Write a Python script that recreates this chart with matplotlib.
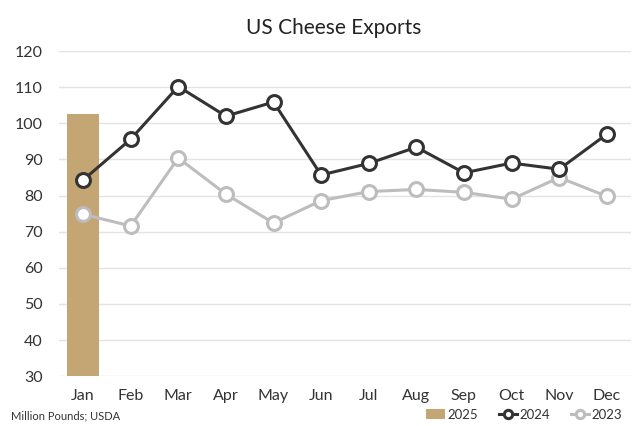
import numpy as np
import matplotlib.pyplot as plt

months = ['Jan', 'Feb', 'Mar', 'Apr', 'May', 'Jun', 'Jul', 'Aug', 'Sep', 'Oct', 'Nov', 'Dec']
exports_2025 = [102.5]
exports_2024 = [84.3, 95.6, 110.2, 102.0, 105.9, 85.7, 88.9, 93.4, 86.3, 89.0, 87.3, 97.0]
exports_2023 = [74.8, 71.6, 90.4, 80.4, 72.4, 78.6, 81.1, 81.7, 80.9, 79.0, 85.0, 79.8]

plt.rcParams['font.family'] = ['Lato', 'DejaVu Sans']

fig = plt.figure(figsize=(6.37, 4.26), dpi=100)
ax = fig.add_axes([0.093, 0.117, 0.897, 0.763])

x = np.arange(len(months))
ax.bar(x[:len(exports_2025)], np.array(exports_2025) - 30, bottom=30, width=0.67,
       color='#C4A574', label='2025', zorder=2)
ax.plot(x, exports_2023, color='#BDBDBD', lw=2.2, marker='o', ms=10,
        mfc='white', mec='#BDBDBD', mew=2.2, label='2023', zorder=3)
ax.plot(x, exports_2024, color='#333333', lw=2.2, marker='o', ms=10,
        mfc='white', mec='#333333', mew=2.2, label='2024', zorder=4)

ax.set_ylim(30, 120)
ax.set_xlim(-0.5, 11.5)
ax.set_yticks(range(30, 121, 10))
ax.set_xticks(x)
ax.set_xticklabels(months)
ax.tick_params(length=0, labelsize=11.5, colors='#333333')
ax.tick_params(axis='y', pad=12)
ax.tick_params(axis='x', pad=9)
ax.grid(axis='y', color='#E3E3E3', lw=1, zorder=0)
ax.set_axisbelow(True)
for s in ax.spines.values():
    s.set_visible(False)

fig.text(0.524, 0.935, 'US Cheese Exports', ha='center', va='center', fontsize=15, color='#222222')
fig.text(0.018, 0.015, 'Million Pounds; USDA', fontsize=8, color='#333333')

h, l = ax.get_legend_handles_labels()
order = [l.index('2025'), l.index('2024'), l.index('2023')]
leg = fig.legend([h[i] for i in order], [l[i] for i in order], loc='lower right',
                 bbox_to_anchor=(0.995, -0.015), ncol=3, frameon=False, fontsize=9.5,
                 handlelength=1.4, handletextpad=0.15, columnspacing=1.6, markerscale=0.6)
for t in leg.get_texts():
    t.set_color('#333333')

fig.savefig('out.png', dpi=100)
